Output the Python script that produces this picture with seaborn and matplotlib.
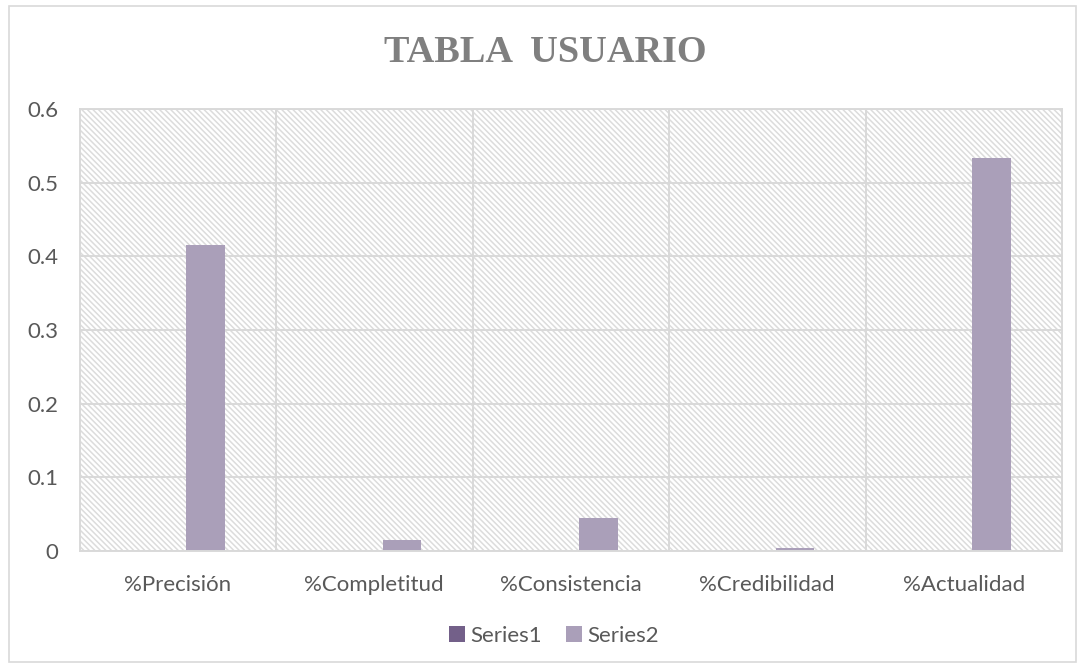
import pandas as pd
import matplotlib.pyplot as plt
import seaborn as sns
from matplotlib.patches import Rectangle

sns.set_theme(style='white')
plt.rcParams['font.family'] = ['Lato', 'DejaVu Sans']
plt.rcParams['hatch.linewidth'] = 1.1

# data
categorias = ['%Precisión', '%Completitud', '%Consistencia', '%Credibilidad', '%Actualidad']
series1 = [0, 0, 0, 0, 0]
series2 = [0.416, 0.015, 0.045, 0.004, 0.534]
nombres_series = ['Series1', 'Series2']
y_ticks = [0, 0.1, 0.2, 0.3, 0.4, 0.5, 0.6]
y_labels = ['0', '0.1', '0.2', '0.3', '0.4', '0.5', '0.6']

colores = ['#725990', '#a99bbd']
gris = '#d9d9d9'
texto = '#595959'

df = pd.DataFrame({
    'Categoria': categorias * 2,
    'Valor': series1 + series2,
    'Serie': [nombres_series[0]] * len(categorias) + [nombres_series[1]] * len(categorias),
})

fig = plt.figure(figsize=(10.86, 6.71), dpi=100)
ax = fig.add_axes([79.5 / 1086, 1 - 551 / 671, (1062 - 79.5) / 1086, (551 - 109) / 671])

# hatched plot area
rayado = chr(92) * 6
ax.add_patch(Rectangle((0, 0), 1, 1, transform=ax.transAxes, facecolor='white',
                       edgecolor='#dcdcdc', hatch=rayado, lw=0, zorder=0))

sns.barplot(data=df, x='Categoria', y='Valor', hue='Serie', hue_order=nombres_series,
            palette=colores, width=0.56, gap=0.3, ax=ax, zorder=2, linewidth=0)

ax.set_ylim(0, 0.6)
ax.set_xlim(-0.5, len(categorias) - 0.5)
ax.set_yticks(y_ticks)
ax.set_yticklabels(y_labels)
ax.set_xticks(range(len(categorias)), minor=False)
ax.set_xticks([i + 0.5 for i in range(len(categorias) - 1)], minor=True)
ax.set_axisbelow(True)
ax.grid(axis='y', which='major', color=gris, lw=1.4)
ax.grid(axis='x', which='minor', color=gris, lw=1.4)
ax.grid(axis='x', which='major', visible=False)
for s in ax.spines.values():
    s.set_color(gris)
    s.set_linewidth(1.4)
ax.tick_params(axis='both', which='both', length=0, colors=texto, labelsize=16)
ax.tick_params(axis='y', pad=15)
ax.tick_params(axis='x', pad=17)
ax.set_xlabel('')
ax.set_ylabel('')

handles, labels = ax.get_legend_handles_labels()
ax.get_legend().remove()
fig.legend(handles, labels, loc='center', bbox_to_anchor=(554 / 1086, 1 - 636 / 671), ncol=2,
           frameon=False, handlelength=0.7, handleheight=0.7, handletextpad=0.25,
           columnspacing=1.1, fontsize=16, labelcolor=texto)

fig.text(545.5 / 1086, 1 - 52 / 671, 'TABLA  USUARIO', ha='center', va='center',
         fontsize=27.5, fontweight='bold', color='#7f7f7f', family=['Liberation Serif', 'DejaVu Serif'])

# chart border
fig.add_artist(Rectangle((9 / 1086, 1 - 662 / 671), (1076 - 9) / 1086, (662 - 6) / 671,
                         transform=fig.transFigure, fill=False, edgecolor=gris, lw=1.2))

fig.savefig('out.png', dpi=100)
